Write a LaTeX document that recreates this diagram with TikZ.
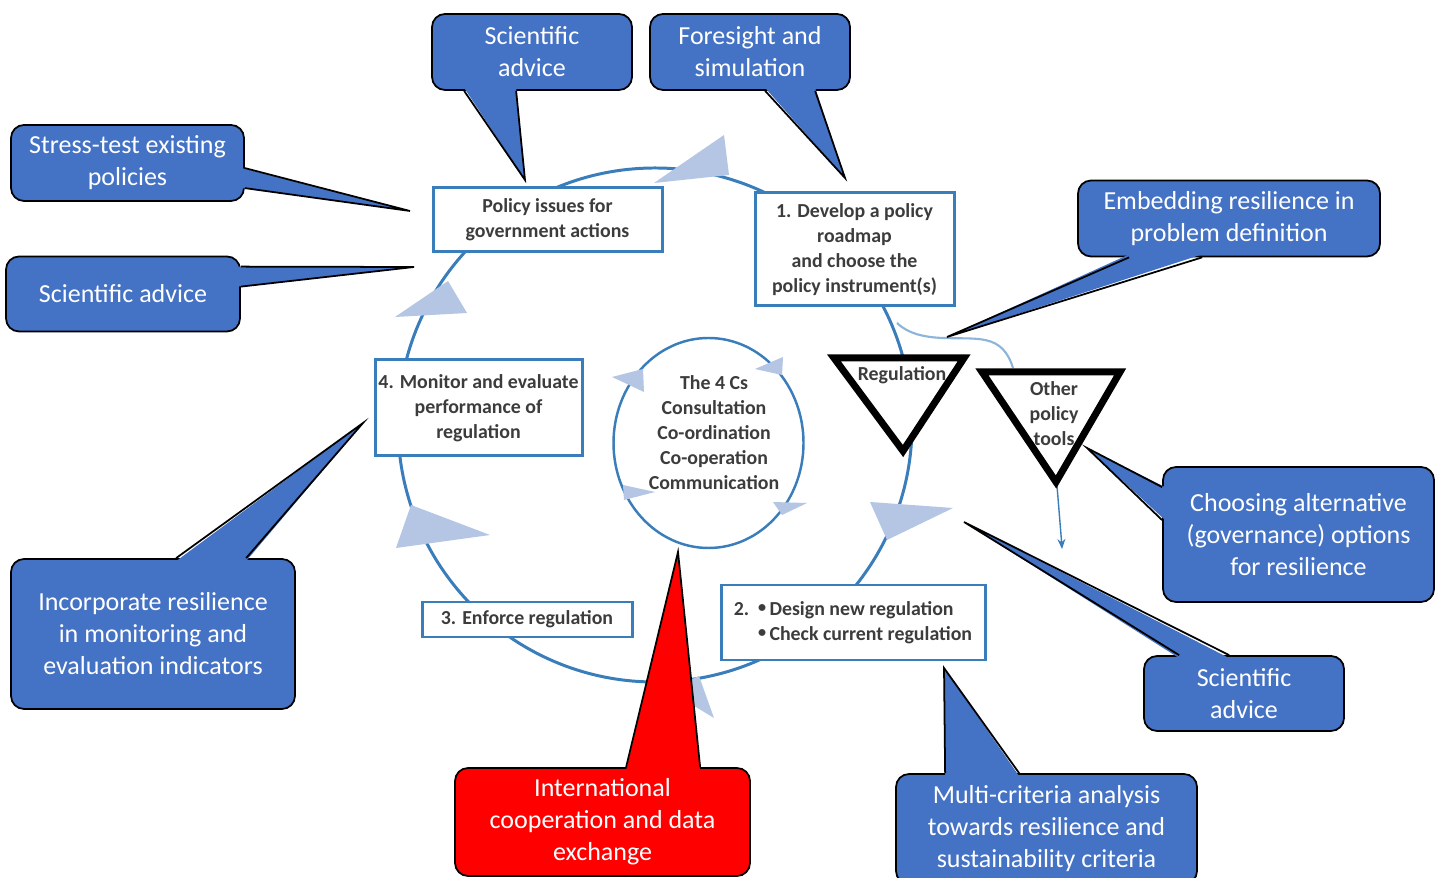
\documentclass[tikz,border=0pt]{standalone}
\usepackage{fontspec}
\setmainfont{Carlito}
\usetikzlibrary{calc,arrows.meta}
\definecolor{callblue}{HTML}{4472C4}
\definecolor{cycleblue}{HTML}{3A7DBB}
\definecolor{palearrow}{HTML}{B4C6E4}
\definecolor{labelgray}{HTML}{3C3C3C}
\definecolor{linkblue}{HTML}{8DB4DA}
\newcommand{\smallbul}{\raisebox{0.28ex}{\fontsize{4.6}{4.6}\selectfont\textbullet}}
\begin{document}
\begin{tikzpicture}[x=0.1mm, y=-0.1mm,
  stepbox/.style={draw=cycleblue, line width=0.85pt, fill=white, inner sep=0pt,
    text=labelgray, font=\fontsize{5.65}{7.1}\selectfont\bfseries, align=center},
  steptext/.style={inner sep=0pt, text=labelgray, font=\fontsize{5.65}{7.1}\selectfont\bfseries, align=center},
  callout/.style={draw=black, line width=0.5pt, fill=callblue, rounded corners=1.3mm, inner sep=0pt,
    text=white, font=\fontsize{7.4}{9.1}\selectfont, align=center},
  tailfill/.style={fill=callblue},
  tailline/.style={draw=black, line width=0.5pt, line join=miter},
  flowtip/.style={fill=palearrow},
  policytri/.style={draw=black, line width=0.7mm, fill=white, line join=miter}]
  \clip (0,0) rectangle (1443,878);
  \fill[white] (0,0) rectangle (1443,878);

  \draw[cycleblue, line width=0.85pt] (655,425) circle [radius=257];
  \coordinate (split) at (897,323);
  \coordinate (othtop) at (1013,368);
  \coordinate (othbot) at (1057,486);
  \coordinate (othend) at (1062,549);
  \draw[linkblue, line width=0.6pt] (split) .. controls (920,345) and (960,335) .. (985,340)
    .. controls (1000,343) and (1008,352) .. (othtop);
  \draw[cycleblue, line width=0.4pt, -{Stealth[length=1mm, width=0.8mm]}] (othbot) .. controls (1060,515) .. (othend);

  \fill[flowtip] (654,183) -- (724,135) -- (729,175) -- cycle;
  \fill[flowtip] (395,317) -- (448,281) -- (467,313) -- cycle;
  \fill[flowtip] (411,505) -- (490,535) -- (396,548) -- cycle;
  \fill[flowtip] (668,690) -- (699,676) -- (714,718) -- cycle;
  \fill[flowtip] (870,502) -- (953,508) -- (887,540) -- cycle;

  \draw[cycleblue, line width=0.7pt] (708.5,443) ellipse [x radius=95, y radius=105];
  \fill[flowtip] (612,377) -- (643,369) -- (644,392) -- cycle;
  \fill[flowtip] (755,369) -- (783,357) -- (782,375) -- cycle;
  \fill[flowtip] (623,485) -- (655,492) -- (624,500) -- cycle;
  \fill[flowtip] (773,502) -- (807,503) -- (782,515) -- cycle;
  \node[steptext] (fourcs) at (714,433) {The 4 Cs\\Consultation\\Co-ordination\\Co-operation\\Communication};

  \node[stepbox, minimum width=22.9mm, minimum height=6.4mm] (issues) at (547.5,220) {Policy issues for\\government actions};
  \node[stepbox, minimum width=19.9mm, minimum height=11.3mm] (develop) at (854.5,249.5) {1. Develop a policy\\roadmap\\and choose the\\policy instrument(s)};
  \node[stepbox, minimum width=20.7mm, minimum height=9.6mm] (monitor) at (478.5,408) {4. Monitor and evaluate\\performance of\\regulation};
  \node[stepbox, minimum width=21mm, minimum height=3.5mm] (enforce) at (527,619.5) {3. Enforce regulation};
  \node[stepbox, minimum width=26.4mm, minimum height=7.5mm, align=left] (design) at (853,622.5)
    {2.\hspace{0.45em}\smallbul\,Design new regulation\\\hphantom{2.\hspace{0.45em}}\smallbul\,Check current regulation};

  \draw[policytri] (834,358) -- (964,358) -- (903,451) -- cycle;
  \node[steptext] (regul) at (902,375) {Regulation};
  \draw[policytri] (982,372) -- (1120,372) -- (1056,482) -- cycle;
  \node[steptext] (othertools) at (1054,414) {Other\\policy\\tools};

  \node[callout, minimum width=20mm, minimum height=7.6mm] (sciA) at (532,52) {Scientific\\advice};
  \coordinate (sciAtip) at (525,180);
  \fill[tailfill] ($(sciA.south west)+(33,-3)$) -- (sciAtip) -- ($(sciA.south west)+(85,-3)$) -- cycle;
  \draw[tailline] ($(sciA.south west)+(33,0)$) -- (sciAtip) -- ($(sciA.south west)+(85,0)$);

  \node[callout, minimum width=20mm, minimum height=7.6mm] (fore) at (750,52) {Foresight and\\simulation};
  \coordinate (foretip) at (845,178);
  \fill[tailfill] ($(fore.south west)+(116,-3)$) -- (foretip) -- ($(fore.south west)+(166,-3)$) -- cycle;
  \draw[tailline] ($(fore.south west)+(116,0)$) -- (foretip) -- ($(fore.south west)+(166,0)$);

  \node[callout, minimum width=23.3mm, minimum height=7.6mm] (stress) at (127.5,163) {Stress-test existing\\policies};
  \coordinate (stresstip) at (410,211);
  \fill[tailfill] ($(stress.north east)+(-3,44)$) -- (stresstip) -- ($(stress.north east)+(-3,64)$) -- cycle;
  \draw[tailline] ($(stress.north east)+(0,44)$) -- (stresstip) -- ($(stress.north east)+(0,64)$);

  \node[callout, minimum width=23.4mm, minimum height=7.5mm] (sciB) at (123,294) {Scientific advice};
  \coordinate (sciBtip) at (414,267);
  \fill[tailfill] ($(sciB.north east)+(-3,11)$) -- (sciBtip) -- ($(sciB.north east)+(-3,31)$) -- cycle;
  \draw[tailline] ($(sciB.north east)+(0,11)$) -- (sciBtip) -- ($(sciB.north east)+(0,31)$);

  \node[callout, minimum width=30.2mm, minimum height=7.6mm] (embed) at (1229,218.5) {Embedding resilience in\\problem definition};
  \coordinate (embedtip) at (947,337);
  \fill[tailfill] ($(embed.south west)+(52,-3)$) -- (embedtip) -- ($(embed.south west)+(125,-3)$) -- cycle;
  \draw[tailline] ($(embed.south west)+(52,0)$) -- (embedtip) -- ($(embed.south west)+(125,0)$);

  \node[callout, minimum width=27.1mm, minimum height=13.5mm] (choose) at (1298.5,534.5) {Choosing alternative\\(governance) options\\for resilience};
  \coordinate (choosetip) at (1087,448);
  \fill[tailfill] ($(choose.north west)+(3,21)$) -- (choosetip) -- ($(choose.north west)+(3,54)$) -- cycle;
  \draw[tailline] ($(choose.north west)+(0,21)$) -- (choosetip) -- ($(choose.north west)+(0,54)$);

  \node[callout, minimum width=20mm, minimum height=7.5mm] (sciC) at (1244,693.5) {Scientific\\advice};
  \coordinate (sciCtip) at (964,522);
  \fill[tailfill] ($(sciC.north west)+(36,3)$) -- (sciCtip) -- ($(sciC.north west)+(86,3)$) -- cycle;
  \draw[tailline] ($(sciC.north west)+(36,0)$) -- (sciCtip) -- ($(sciC.north west)+(86,0)$);

  \node[callout, minimum width=30.1mm, minimum height=11mm] (multi) at (1046.5,829) {Multi-criteria analysis\\towards resilience and\\sustainability criteria};
  \coordinate (multitip) at (944,668);
  \fill[tailfill] ($(multi.north west)+(50,3)$) -- (multitip) -- ($(multi.north west)+(124,3)$) -- cycle;
  \draw[tailline] ($(multi.north west)+(50,0)$) -- (multitip) -- ($(multi.north west)+(124,0)$);

  \node[callout, fill=red, minimum width=29.5mm, minimum height=10.8mm] (intl) at (602.5,822) {International\\cooperation and data\\exchange};
  \coordinate (intltip) at (678,552);
  \fill[red] ($(intl.north west)+(172,3)$) -- (intltip) -- ($(intl.north west)+(246,3)$) -- cycle;
  \draw[tailline] ($(intl.north west)+(172,0)$) -- (intltip) -- ($(intl.north west)+(246,0)$);

  \node[callout, minimum width=28.4mm, minimum height=15mm] (incorp) at (153,634) {Incorporate resilience\\in monitoring and\\evaluation indicators};
  \coordinate (incorptip) at (363,423);
  \fill[tailfill] ($(incorp.north west)+(166,3)$) -- (incorptip) -- ($(incorp.north west)+(236,3)$) -- cycle;
  \draw[tailline] ($(incorp.north west)+(166,0)$) -- (incorptip) -- ($(incorp.north west)+(236,0)$);
\end{tikzpicture}
\end{document}
